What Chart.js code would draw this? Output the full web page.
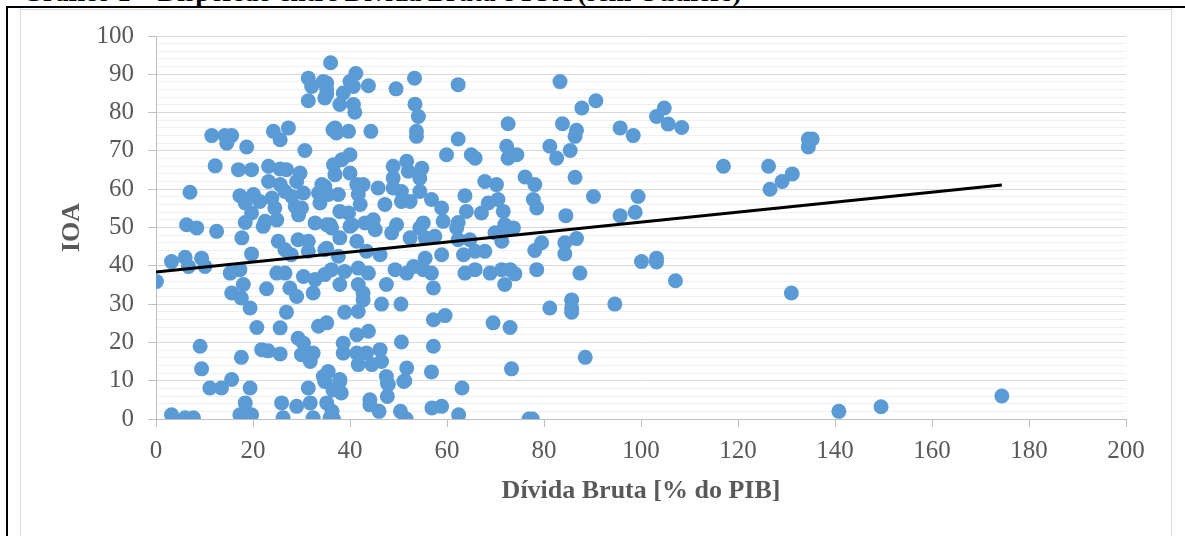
<!DOCTYPE html>
<html><head><meta charset="utf-8">
<script src="https://cdn.jsdelivr.net/npm/chart.js@4"></script>
<style>
html,body{margin:0;padding:0;background:#fff;width:1185px;height:536px;overflow:hidden;}
#frame{position:absolute;left:6px;top:6px;width:1179px;height:530px;border-top:2px solid #000;border-left:2px solid #000;box-sizing:border-box;}
#box{position:absolute;left:20px;top:9px;width:1152px;height:540px;border:1px solid #d9d9d9;box-sizing:border-box;}
#head{position:absolute;left:22px;top:-21px;font:bold 27px "Liberation Serif";line-height:27px;white-space:nowrap;color:#000;}
canvas{position:absolute;left:0;top:0;}
</style></head>
<body>
<div id="head">Gráfico 1 – Dispersão entre Dívida Bruta e IOA (sem Outliers)</div>
<div id="frame"></div>
<div id="box"></div>
<canvas id="c" width="1185" height="536"></canvas>
<script>
// Dívida Bruta [% do PIB] (x) and IOA (y)
const divida = [
36,31.4,32.1,34.5,35.2,34.8,31.4,11.5,14.2,15.6,14.6,18.7,24.2,27.3,25.6,30.7,36.5,12.2,17,19.7,23.2,25.6,26.9,29.7,23.2,25.6,29,7,17.3,20.1,21.4,23.9,26.6,28,30.4,34.2,33.5,33.8,24.5,28.7,30,29.4,18.4,19.7,6.3,8.4,12.5,18.4,22.5,24.9,32.8,35.2,
17.7,22.1,25.2,29.3,31.4,26.6,27.9,31.4,34.8,3.2,6,6.7,9.4,10.1,19.7,15.3,17.3,24.9,26.6,30.4,32.8,34.8,0.1,18,22.8,27.6,15.6,17.6,19.4,29,32.4,26.9,20.8,25.6,33.5,35.2,29.3,30.4,9.1,21.8,23.1,25.6,30,32.4,31.8,17.6,34.5,35.5,34.8,9.4,15.6,11.1,13.5,19.4,31.4,36.5,18.4,25.9,29,31.8,35.2,3.2,6,7.7,17.3,19.7,26.2,32.4,35.9,
36.3,36.6,38.2,37.9,44.1,44.1,46,47.7,47.7,51.1,50.4,51.6,56.9,58.9,62.4,63.1,76.9,77.6,140.8,149.5,174.4,
41.2,43.8,40,40.7,38.6,35.2,35.2,37.9,40.7,41,49.5,53.3,53.4,54.1,53.7,53.7,62.3,36.9,37.2,39.7,44.3,72.6,59.9,62.3,65,65.8,72.3,72.6,40,38.3,36.6,36.9,40,34.8,35.5,37.6,41.4,42.7,41.7,42.1,45.8,47.2,48.9,48.9,51.7,52,54.8,54.4,48.9,50.6,50.6,52.4,54.4,56.8,58.9,63.7,64,67.8,70.2,70.5,68.5,67.1,71.6,37.9,39.7,35.9,40.4,44.8,43.1,49.6,55.1,59.2,62.3,71.9,
36.2,40,45.2,48.6,54.4,62,69.9,72.3,37.9,41.4,52.4,55.5,57.5,64.7,62.3,71.3,35.2,37.6,43.4,46.2,55.5,58.9,63.4,65.8,67.8,36.2,38.9,41.7,43.8,49.3,51.7,53.1,55.1,56.8,63.7,65.8,68.9,71.3,73,37.9,41.7,47.5,57.2,71.9,42.7,42.7,46.5,50.5,38.9,41.7,57.2,59.6,69.5,73,41.4,43.8,50.6,57.2,38.6,38.6,41.4,43.4,46.2,41.7,44.5,46.5,51.7,56.8,73.3,37.9,47.5,47.9,51.3,
83.3,87.8,90.7,83.8,86.7,86.4,81.2,85.4,82.6,74.4,76.1,78.1,86.4,77.8,78.5,90.2,84.5,95.7,98.4,103.2,104.8,105.6,108.4,99.4,98.8,95.7,73.7,
79.5,78.1,84.3,86.7,84.3,74,78.5,87.4,100.1,103.2,103.2,107.1,81.2,85.7,85.7,85.7,94.6,88.5,
117,126.3,126.6,129.1,131.2,134.5,135.3,134.5,131
];
const ioa = [
93,89,86.8,88.1,86,83.8,83.1,74,74,74,72,71,75.1,76,72.9,70.1,75.5,66.1,65.1,65.1,66,65.3,65.1,64.2,62,61.2,62,59.2,58.3,58.6,56.8,57.7,59.4,58.1,59,61.2,59,56.4,55.1,55.5,55.1,53.3,56.4,53.8,50.7,49.9,49,51.3,51.6,52,51.2,50.7,
47.3,50.3,46.4,46.8,46.4,44.2,42.9,43.8,44.2,41.1,42.2,39.8,42,39.8,43.1,38.1,39,38.1,38.1,37.2,36.4,37.7,35.9,35.1,34,34.2,32.9,31.6,29,32,32.9,27.9,23.9,23.8,24.2,25.1,21.1,19.8,19,18.1,17.8,17,16.8,17.2,15,16.1,11.1,12.4,9.8,13.1,10.3,8.1,8.1,8.1,8.1,7.6,4.2,4.2,3.3,4.2,4.2,1.1,0.3,0.3,1.1,1.1,0.3,0.3,0.3,
2,0,6.8,9.8,5,3.7,2,5.9,9.4,9.8,2,0,2.9,3.3,1.1,8.1,0,0,2,3.2,6,
90.2,87,88.1,86.8,85.1,87.7,84.7,82.1,82.1,80.1,86.2,89,82.2,79,75.1,73.8,87.3,76,74.7,75.1,75.1,77.1,69,73.1,69,68.1,71.2,68.1,69,67.7,66.4,63.8,64.2,60.7,58.6,58.6,61.2,61.2,58.6,56,60.3,56,66,62.9,67.3,64.7,65.5,62.9,60.3,59.4,56.8,56.8,59.4,57.3,55.1,58.3,54.2,62,61.2,57.3,56.4,53.8,54.2,54.2,53.8,50.7,50.7,52,51.2,50.7,51.2,51.6,51.3,50.7,
49.9,50.3,49.4,48.6,49.9,49.9,48.6,49.9,47.3,46.4,47.3,47.3,47.7,46.8,46.8,46.4,44.6,42.5,43.8,42.9,42,42.9,42.9,43.8,43.8,39,38.5,39.4,38.1,39,38.1,39.8,39,38.1,38.1,39,38.1,39,39,35.1,35.1,35.1,34.2,35.1,32.9,31.1,30,30,27.9,28.1,25.9,27,25.1,23.9,22,22.9,20.1,19,19.8,17.2,17.2,17.2,18.1,14.2,14.2,15,13.3,12.3,13.1,10.3,11.1,9,10,
88.1,81.2,83.1,77.1,75.4,73.8,71.2,70.1,68.1,69,63.2,61.2,63.1,57.3,55.1,58.1,53.1,76,74,79,81.2,77,76.1,58.1,54,53.1,49.9,
46,44,46,47.1,43.1,37.9,39,38.1,41.1,42,41,36.1,29,31.1,29,27.9,30,16.1,
66,66,60,62,64,73.1,73.1,71,32.9
];
// linear trend line end points (x, y)
const trendX = [0, 174.4];
const trendY = [38.4, 61.1];

const points = divida.map((x, i) => ({x: x, y: ioa[i]}));
const trend = trendX.map((x, i) => ({x: x, y: trendY[i]}));
const grey = '#595959';
const serif = 'Liberation Serif';

new Chart(document.getElementById('c'), {
  data: {
    datasets: [
      {type: 'line', data: trend, borderColor: '#000', borderWidth: 3, pointRadius: 0, fill: false, order: 0},
      {type: 'scatter', data: points, backgroundColor: '#5B9BD5', borderWidth: 0, pointRadius: 7.5, pointHoverRadius: 7.5, order: 1}
    ]
  },
  options: {
    responsive: false, animation: false, events: [],
    layout: {padding: {top: 36, right: 59, left: 0, bottom: 0}},
    plugins: {legend: {display: false}, tooltip: {enabled: false}},
    scales: {
      x: {
        type: 'linear', min: 0, max: 200,
        ticks: {stepSize: 20, color: grey, font: {family: serif, size: 25}, padding: 9, maxRotation: 0, autoSkip: false},
        grid: {drawOnChartArea: false, drawTicks: true, tickLength: 8, tickColor: '#bfbfbf'},
        border: {display: true, color: '#bfbfbf', width: 1},
        title: {display: true, text: 'Dívida Bruta [% do PIB]', color: grey, font: {family: serif, size: 26, weight: 'bold'}, padding: {top: 0, bottom: 29}},
        afterFit: function (s) { s.height = 117; }
      },
      y: {
        type: 'linear', min: 0, max: 100,
        ticks: {stepSize: 2, autoSkip: false, color: grey, font: {family: serif, size: 25}, padding: 14,
          callback: function (v) { return Math.round(v) % 10 === 0 ? v : ''; }},
        grid: {
          color: function (c) { return c.tick && Math.round(c.tick.value) % 10 === 0 ? '#d9d9d9' : '#f0f0f0'; },
          tickColor: function (c) { return c.tick && Math.round(c.tick.value) % 10 === 0 ? '#bfbfbf' : 'rgba(0,0,0,0)'; },
          tickLength: 8, lineWidth: 1
        },
        border: {display: true, color: '#bfbfbf', width: 1},
        title: {display: true, text: 'IOA', color: grey, font: {family: serif, size: 26, weight: 'bold'}, padding: {top: 57, bottom: 0}},
        afterFit: function (s) { s.width = 156; }
      }
    }
  }
});
</script>
</body></html>
